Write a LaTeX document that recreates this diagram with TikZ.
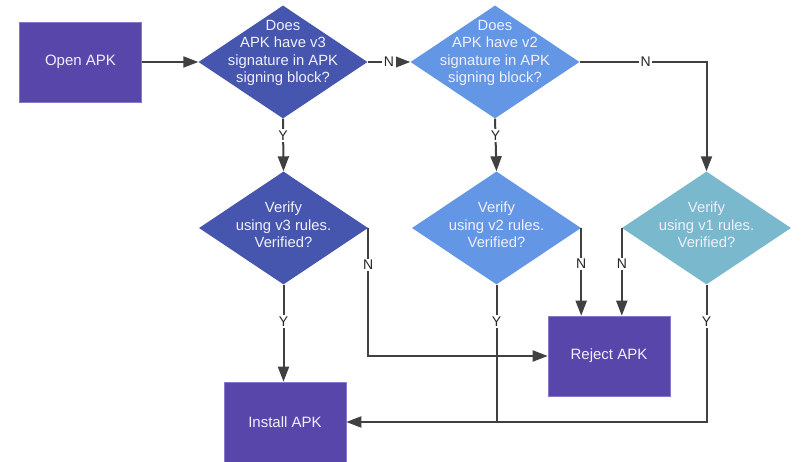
\documentclass[tikz,border=0pt]{standalone}
\usepackage{fontspec}
\setmainfont{Liberation Sans}
\usetikzlibrary{shapes.geometric,arrows.meta}
\definecolor{boxpurple}{RGB}{88,70,171}
\definecolor{boxedge}{RGB}{135,120,200}
\definecolor{dthree}{RGB}{70,86,174}
\definecolor{dtwo}{RGB}{100,150,230}
\definecolor{done}{RGB}{122,184,206}
\definecolor{linegray}{RGB}{64,64,64}
\definecolor{txtwhite}{RGB}{240,240,250}
\tikzset{
  procbox/.style={rectangle, fill=boxpurple, draw=boxedge, line width=0.6pt,
    minimum width=122pt, minimum height=80pt, inner sep=0pt,
    text=txtwhite, font=\fontsize{15}{17.5}\selectfont},
  decision/.style={diamond, fill=#1, draw=none, inner sep=0pt,
    minimum width=169pt, minimum height=113pt},
  dtext/.style={text=txtwhite, align=center, inner sep=0pt,
    font=\fontsize{14.8}{17.6}\selectfont},
  conn/.style={draw=linegray, line width=2pt},
  arr/.style={conn, -{Triangle[length=15pt,width=11pt]}},
  yn/.style={fill=white, inner sep=1.5pt, text=black!85,
    font=\fontsize{14}{16}\selectfont}
}
\begin{document}
\begin{tikzpicture}[x=1pt,y=1pt]
\useasboundingbox (0,0) rectangle (804,462);

\node[procbox] (open) at (80.5,400) {Open APK};
\node[decision=dthree] (d1) at (283,400) {};
\node[dtext] (t1) at (283,409) {Does\\APK have v3\\signature in APK\\signing block?};
\node[decision=dtwo] (d2) at (495,400) {};
\node[dtext] (t2) at (495,409) {Does\\APK have v2\\signature in APK\\signing block?};

\node[decision=dthree] (d4) at (283.5,234) {};
\node[dtext] (t4) at (283.5,237) {Verify\\using v3 rules.\\Verified?};
\node[decision=dtwo] (d5) at (496.5,234) {};
\node[dtext] (t5) at (496.5,237) {Verify\\using v2 rules.\\Verified?};
\node[decision=done] (d3) at (706.5,234) {};
\node[dtext] (t3) at (706.5,237) {Verify\\using v1 rules.\\Verified?};

\node[procbox] (reject) at (609,106) {Reject APK};
\node[procbox] (install) at (285,40) {Install APK};

% top row
\draw[arr] (open.east) -- (d1.west);
\draw[arr] (d1.east) -- node[yn] (n1) {N} (d2.west);
\draw[arr] (d2.east) -| node[yn, pos=0.26] (n2) {N} (d3.north);

% Y from checks
\draw[arr] (d1.south) -- node[yn, pos=0.32] (y1) {Y} (d4.north);
\draw[arr] (d2.south) -- node[yn, pos=0.32] (y2) {Y} (d5.north);

% N from verifies to reject
\draw[arr] (d4.east) |- node[yn, pos=0.145] (n4) {N} (reject.west);
\draw[arr] (d5.east) -- node[yn, pos=0.41] (n5) {N} (d5.east |- reject.north);
\draw[arr] (d3.west) -- node[yn, pos=0.41] (n3) {N} (d3.west |- reject.north);

% Y from verifies to install
\draw[arr] (d4.south) -- node[yn, pos=0.38] (y4) {Y} (d4.south |- install.north);
\draw[arr] (d3.south) |- node[yn, pos=0.134] (y3) {Y} (install.east);
\coordinate (j5) at (d5.south |- install.east);
\draw[conn] (d5.south) -- node[yn, pos=0.27] (y5) {Y} (j5);
\end{tikzpicture}
\end{document}
